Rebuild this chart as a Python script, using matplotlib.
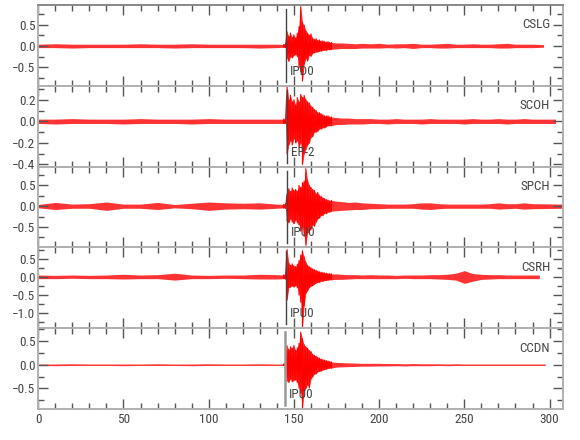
import matplotlib
matplotlib.use("Agg")
import matplotlib.pyplot as plt
from matplotlib.ticker import MultipleLocator

plt.rcParams["font.family"] = ["Liberation Sans Narrow", "Roboto Condensed", "DejaVu Sans"]
plt.rcParams["font.stretch"] = "condensed"

stations = ["CSLG", "SCOH", "SPCH", "CSRH", "CCDN"]
pick_labels = ["IPD0", "EP-2", "IPU0", "IPU0", "IPU0"]
pick_times = [145.4, 145.8, 145.8, 145.4, 145.0]
trace_end = [296.5, 303.5, 307.5, 294.0, 297.5]
ylims = [(-0.93, 0.96), (-0.42, 0.33), (-0.99, 0.95), (-1.42, 0.81), (-0.94, 0.77)]
major_steps = [0.5, 0.2, 0.5, 0.5, 0.5]

# envelope sample times (s): quiet pre-event, 1 s through the main arrivals, coarser coda
t_pre = list(range(0, 141, 10))
t_event = list(range(144, 173))
t_late = [175, 178, 182, 186, 190]
t_coda = list(range(195, 291, 5))

# upper / lower envelope of each trace
cslg_hi = ([0.04, 0.05, 0.04, 0.04, 0.04, 0.04, 0.05, 0.04, 0.04, 0.05, 0.04, 0.04, 0.04, 0.04, 0.04]
           + [0.03, 0.04, 0.33, 0.22, 0.30, 0.20, 0.26, 0.18, 0.30, 0.45, 0.92, 0.55, 0.48, 0.36, 0.30,
              0.25, 0.28, 0.18, 0.15, 0.17, 0.13, 0.14, 0.11, 0.12, 0.10, 0.09, 0.10, 0.08, 0.08]
           + [0.07, 0.07, 0.06, 0.05, 0.06]
           + [0.05, 0.06, 0.04, 0.05, 0.05, 0.06, 0.04, 0.04, 0.05, 0.06, 0.04, 0.04, 0.05, 0.04, 0.04,
              0.05, 0.06, 0.04, 0.04, 0.04]
           + [0.03])
cslg_lo = ([-0.04, -0.04, -0.05, -0.04, -0.04, -0.04, -0.04, -0.04, -0.05, -0.04, -0.04, -0.04, -0.04, -0.05, -0.04]
           + [-0.03, -0.04, -0.30, -0.36, -0.25, -0.28, -0.22, -0.20, -0.25, -0.50, -0.60, -0.82, -0.43, -0.30,
              -0.35, -0.22, -0.24, -0.17, -0.16, -0.14, -0.14, -0.12, -0.12, -0.10, -0.10, -0.10, -0.08, -0.09, -0.08]
           + [-0.07, -0.06, -0.06, -0.06, -0.05]
           + [-0.05, -0.05, -0.04, -0.05, -0.04, -0.06, -0.04, -0.04, -0.05, -0.05, -0.04, -0.04, -0.04, -0.04,
              -0.04, -0.05, -0.05, -0.04, -0.04, -0.04]
           + [-0.03])

scoh_hi = ([0.02, 0.02, 0.025, 0.02, 0.02, 0.02, 0.025, 0.02, 0.02, 0.02, 0.025, 0.02, 0.02, 0.02, 0.02]
           + [0.02, 0.02, 0.32, 0.20, 0.24, 0.18, 0.20, 0.15, 0.22, 0.18, 0.25, 0.22, 0.24, 0.20, 0.18,
              0.17, 0.14, 0.13, 0.11, 0.10, 0.08, 0.08, 0.07, 0.06, 0.05, 0.05, 0.05, 0.04, 0.04]
           + [0.035, 0.03, 0.03, 0.025, 0.025]
           + [0.025, 0.02, 0.02, 0.025, 0.02, 0.02, 0.02, 0.025, 0.02, 0.02, 0.02, 0.02, 0.025, 0.02, 0.02,
              0.025, 0.02, 0.02, 0.025, 0.02]
           + [0.02])
scoh_lo = ([-0.02, -0.025, -0.02, -0.02, -0.02, -0.025, -0.02, -0.02, -0.02, -0.025, -0.02, -0.02, -0.02, -0.02, -0.02]
           + [-0.02, -0.02, -0.30, -0.22, -0.18, -0.22, -0.16, -0.20, -0.18, -0.24, -0.20, -0.40, -0.30, -0.26,
              -0.22, -0.20, -0.15, -0.14, -0.10, -0.10, -0.09, -0.07, -0.07, -0.06, -0.06, -0.05, -0.04, -0.04, -0.04]
           + [-0.03, -0.03, -0.025, -0.025, -0.025]
           + [-0.02, -0.02, -0.025, -0.02, -0.02, -0.02, -0.025, -0.02, -0.02, -0.02, -0.02, -0.025, -0.02, -0.02,
              -0.02, -0.02, -0.025, -0.02, -0.02, -0.02]
           + [-0.02])

spch_hi = ([0.04, 0.09, 0.05, 0.06, 0.10, 0.05, 0.05, 0.09, 0.04, 0.07, 0.10, 0.08, 0.07, 0.08, 0.05]
           + [0.04, 0.05, 0.30, 0.42, 0.35, 0.44, 0.38, 0.40, 0.36, 0.50, 0.45, 0.56, 0.60, 0.90, 0.62,
              0.50, 0.45, 0.40, 0.38, 0.30, 0.33, 0.25, 0.24, 0.20, 0.18, 0.16, 0.15, 0.13, 0.14]
           + [0.12, 0.11, 0.09, 0.10, 0.08]
           + [0.07, 0.06, 0.05, 0.05, 0.05, 0.06, 0.08, 0.08, 0.06, 0.05, 0.05, 0.05, 0.05, 0.05, 0.06,
              0.08, 0.06, 0.06, 0.08, 0.06]
           + [0.05])
spch_lo = ([-0.04, -0.08, -0.05, -0.05, -0.10, -0.05, -0.05, -0.08, -0.04, -0.06, -0.10, -0.07, -0.06, -0.07, -0.05]
           + [-0.04, -0.05, -0.35, -0.40, -0.30, -0.38, -0.42, -0.33, -0.40, -0.45, -0.60, -0.50, -0.72, -0.94,
              -0.65, -0.60, -0.55, -0.45, -0.48, -0.38, -0.30, -0.28, -0.22, -0.22, -0.17, -0.18, -0.14, -0.14, -0.12]
           + [-0.11, -0.10, -0.09, -0.08, -0.08]
           + [-0.06, -0.06, -0.05, -0.05, -0.05, -0.05, -0.07, -0.08, -0.06, -0.05, -0.05, -0.05, -0.05, -0.05,
              -0.05, -0.07, -0.06, -0.05, -0.07, -0.06]
           + [-0.05])

csrh_hi = ([0.05, 0.04, 0.05, 0.04, 0.05, 0.07, 0.05, 0.06, 0.10, 0.05, 0.04, 0.05, 0.05, 0.07, 0.06]
           + [0.05, 0.06, 0.75, 0.38, 0.32, 0.36, 0.30, 0.28, 0.35, 0.45, 0.60, 0.72, 0.55, 0.40, 0.32,
              0.28, 0.25, 0.22, 0.20, 0.18, 0.16, 0.14, 0.13, 0.12, 0.11, 0.10, 0.09, 0.09, 0.08]
           + [0.08, 0.07, 0.06, 0.06, 0.05]
           + [0.06, 0.05, 0.05, 0.04, 0.05, 0.05, 0.05, 0.06, 0.06, 0.07, 0.10, 0.17, 0.09, 0.07, 0.06,
              0.06, 0.05, 0.05, 0.05, 0.05]
           + [0.05])
csrh_lo = ([-0.05, -0.05, -0.04, -0.05, -0.05, -0.06, -0.05, -0.05, -0.09, -0.05, -0.05, -0.04, -0.05, -0.06, -0.06]
           + [-0.05, -0.06, -0.64, -0.30, -0.28, -0.25, -0.28, -0.24, -0.30, -0.50, -0.70, -1.40, -0.80, -0.45,
              -0.38, -0.30, -0.26, -0.24, -0.20, -0.17, -0.15, -0.15, -0.12, -0.12, -0.10, -0.10, -0.09, -0.08, -0.08]
           + [-0.07, -0.07, -0.06, -0.05, -0.05]
           + [-0.05, -0.05, -0.05, -0.05, -0.04, -0.05, -0.05, -0.05, -0.06, -0.07, -0.09, -0.18, -0.12, -0.07,
              -0.06, -0.05, -0.05, -0.05, -0.05, -0.05]
           + [-0.05])

ccdn_hi = ([0.015, 0.015, 0.02, 0.015, 0.015, 0.015, 0.015, 0.02, 0.015, 0.015, 0.02, 0.015, 0.015, 0.02, 0.015]
           + [0.015, 0.02, 0.40, 0.32, 0.38, 0.35, 0.41, 0.30, 0.36, 0.45, 0.69, 0.55, 0.42, 0.38, 0.35,
              0.30, 0.28, 0.22, 0.20, 0.18, 0.16, 0.14, 0.12, 0.11, 0.10, 0.09, 0.08, 0.07, 0.06]
           + [0.05, 0.045, 0.04, 0.035, 0.03]
           + [0.03, 0.03, 0.025, 0.025, 0.02, 0.025, 0.02, 0.02, 0.02, 0.015, 0.02, 0.015, 0.015, 0.015,
              0.015, 0.015, 0.015, 0.015, 0.015, 0.015]
           + [0.015])
ccdn_lo = ([-0.015, -0.02, -0.015, -0.015, -0.015, -0.02, -0.015, -0.015, -0.015, -0.02, -0.015, -0.015, -0.015,
            -0.015, -0.015]
           + [-0.015, -0.02, -0.35, -0.37, -0.30, -0.36, -0.33, -0.32, -0.38, -0.50, -0.60, -0.92, -0.55, -0.50,
              -0.42, -0.49, -0.30, -0.25, -0.20, -0.19, -0.15, -0.14, -0.13, -0.11, -0.10, -0.09, -0.08, -0.07, -0.07]
           + [-0.05, -0.045, -0.04, -0.035, -0.03]
           + [-0.03, -0.025, -0.025, -0.02, -0.025, -0.02, -0.02, -0.02, -0.015, -0.02, -0.015, -0.015, -0.015,
              -0.015, -0.015, -0.015, -0.015, -0.015, -0.015, -0.015]
           + [-0.015])

env_hi = [cslg_hi, scoh_hi, spch_hi, csrh_hi, ccdn_hi]
env_lo = [cslg_lo, scoh_lo, spch_lo, csrh_lo, ccdn_lo]

TICK_COL = "#555555"
SPINE_COL = "#b0b0b0"
TEXT_COL = "#444444"

fig, axes = plt.subplots(5, 1, sharex=True, figsize=(5.8, 4.4), dpi=100)
fig.subplots_adjust(left=0.066, right=0.971, top=0.989, bottom=0.070, hspace=0)

ev0, ev1 = len(t_pre), len(t_pre) + len(t_event)   # 1-s samples through the arrivals

for i, ax in enumerate(axes):
    t = t_pre + t_event + t_late + t_coda + [trace_end[i]]
    hi, lo = env_hi[i], env_lo[i]
    assert len(t) == len(hi) == len(lo)
    ax.fill_between(t, lo, hi, color="red", lw=0, alpha=0.8)
    # stroke through each peak/trough pair of the arrivals for the wiggle texture
    zx, zy = [], []
    for tk, h, l in zip(t[ev0:ev1], hi[ev0:ev1], lo[ev0:ev1]):
        zx += [tk, tk]
        zy += [h, l]
    ax.plot(zx, zy, color="red", lw=0.8)

    # phase pick marker + label
    pick_col, pick_lw = ("#999999", 1.8) if i == 4 else ("#444444", 1.0)
    ax.axvline(pick_times[i], ymin=0.05, ymax=0.95, color=pick_col, lw=pick_lw)
    ax.text(pick_times[i] + 2.3, ylims[i][0] + 0.18 * (ylims[i][1] - ylims[i][0]), pick_labels[i],
            fontsize=9.5, color=TEXT_COL, va="center", ha="left")
    ax.text(0.975, 0.755, stations[i], transform=ax.transAxes, fontsize=9.5,
            color=TEXT_COL, ha="right", va="center")

    ax.set_xlim(0, 308)
    ax.set_ylim(*ylims[i])
    ax.yaxis.set_major_locator(MultipleLocator(major_steps[i]))
    ax.yaxis.set_minor_locator(MultipleLocator(major_steps[i] / 2))
    ax.xaxis.set_major_locator(MultipleLocator(50))
    ax.xaxis.set_minor_locator(MultipleLocator(10))
    ax.tick_params(which="both", direction="in", top=True, right=True, color=TICK_COL,
                   labelcolor=TEXT_COL, labelsize=9.5, width=1.0)
    ax.tick_params(which="major", length=7)
    ax.tick_params(which="minor", length=4)
    ax.tick_params(axis="y", pad=2)
    for s in ax.spines.values():
        s.set_color(SPINE_COL)
        s.set_linewidth(1.4)
    ax.yaxis.set_major_formatter(plt.FuncFormatter(lambda v, _: f"{v:.1f}".replace("-", "\u2212")))

axes[0].spines["top"].set_color("#888888")
axes[-1].tick_params(axis="x", pad=3)

fig.savefig("out.png", dpi=100)
